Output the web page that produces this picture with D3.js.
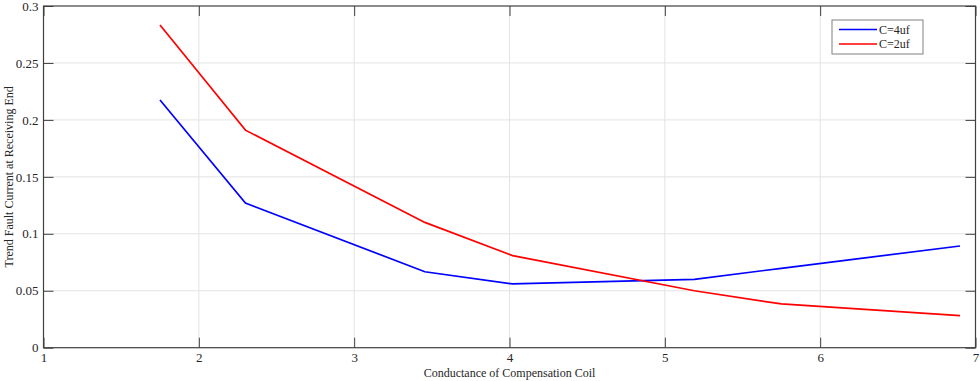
<!DOCTYPE html>
<html>
<head>
<meta charset="utf-8">
<script src="https://cdn.jsdelivr.net/npm/d3@7"></script>
<style>
  body { margin: 0; background: #fff; }
  svg { display: block; }
</style>
</head>
<body>
<div id="chart"></div>
<script>
// conductance values (x) and trend fault current per capacitance
const xValues = [1.75, 2.3, 3.455, 4.02, 5.19, 5.75, 6.9];
const c4uf = [0.2175, 0.127, 0.0667, 0.056, 0.060, 0.0697, 0.0893];
const c2uf = [0.2833, 0.191, 0.110, 0.0808, 0.050, 0.0384, 0.0281];
const seriesNames = ["C=4uf", "C=2uf"];
const seriesColors = ["#0000ff", "#ff0000"];
const xTicks = [1, 2, 3, 4, 5, 6, 7];
const yTicks = [0, 0.05, 0.1, 0.15, 0.2, 0.25, 0.3];

const W = 980, H = 381;
const margin = {top: 6, right: 4.5, bottom: 33.3, left: 43.5};
const width = W - margin.left - margin.right,
      height = H - margin.top - margin.bottom;
const font = "'Liberation Serif', 'Times New Roman', serif";

const svg = d3.select("#chart").append("svg")
    .attr("width", W)
    .attr("height", H);

const g = svg.append("g")
    .attr("transform", "translate(" + margin.left + "," + margin.top + ")");

const x = d3.scaleLinear().domain([1, 7]).range([0, width]);
const y = d3.scaleLinear().domain([0, 0.3]).range([height, 0]);

// grid
g.append("g").selectAll("line")
    .data(xTicks.slice(1, -1)).enter().append("line")
    .attr("x1", d => x(d)).attr("x2", d => x(d))
    .attr("y1", 0).attr("y2", height)
    .attr("stroke", "#e3e3e3").attr("stroke-width", 1);
g.append("g").selectAll("line")
    .data(yTicks.slice(1, -1)).enter().append("line")
    .attr("y1", d => y(d)).attr("y2", d => y(d))
    .attr("x1", 0).attr("x2", width)
    .attr("stroke", "#e3e3e3").attr("stroke-width", 1);

// axes (ticks inside, mirrored on top/right)
function styleAxis(sel) {
    sel.select(".domain").remove();
    sel.selectAll("line").attr("stroke", "#404040");
    sel.selectAll("text")
        .attr("fill", "#262626")
        .style("font-family", font)
        .style("font-size", "13px");
}

const axisX = g.append("g")
    .attr("transform", "translate(0," + height + ")")
    .call(d3.axisBottom(x).tickValues(xTicks).tickFormat(d3.format("d"))
        .tickSizeInner(-10).tickSizeOuter(0).tickPadding(5));
styleAxis(axisX);

const axisY = g.append("g")
    .call(d3.axisLeft(y).tickValues(yTicks).tickFormat(d => d === 0 ? "0" : String(d))
        .tickSizeInner(-10).tickSizeOuter(0).tickPadding(5));
styleAxis(axisY);

const axisTop = g.append("g")
    .call(d3.axisTop(x).tickValues(xTicks).tickFormat("")
        .tickSizeInner(-10).tickSizeOuter(0));
styleAxis(axisTop);

const axisRight = g.append("g")
    .attr("transform", "translate(" + width + ",0)")
    .call(d3.axisRight(y).tickValues(yTicks).tickFormat("")
        .tickSizeInner(-10).tickSizeOuter(0));
styleAxis(axisRight);

// box
g.append("rect")
    .attr("x", 0).attr("y", 0)
    .attr("width", width).attr("height", height)
    .attr("fill", "none")
    .attr("stroke", "#404040")
    .attr("stroke-width", 1.2);

// lines
const line = d3.line()
    .x((d, i) => x(xValues[i]))
    .y(d => y(d));

[c4uf, c2uf].forEach((s, i) => {
    g.append("path")
        .datum(s)
        .attr("fill", "none")
        .attr("stroke", seriesColors[i])
        .attr("stroke-width", 1.7)
        .attr("d", line);
});

// axis labels
svg.append("text")
    .attr("x", margin.left + width / 2)
    .attr("y", 377)
    .attr("text-anchor", "middle")
    .style("font-family", font)
    .style("font-size", "12px")
    .attr("fill", "#262626")
    .text("Conductance of Compensation Coil");

svg.append("text")
    .attr("transform", "translate(13," + (margin.top + height / 2) + ") rotate(-90)")
    .attr("text-anchor", "middle")
    .style("font-family", font)
    .style("font-size", "12px")
    .attr("fill", "#262626")
    .text("Trend Fault Current at Receiving End");

// legend
const legend = svg.append("g").attr("transform", "translate(832,20)");
legend.append("rect")
    .attr("width", 91).attr("height", 34)
    .attr("fill", "#fff")
    .attr("stroke", "#808080")
    .attr("stroke-width", 1);
seriesNames.forEach((name, i) => {
    const yy = 9.5 + i * 14.5;
    legend.append("line")
        .attr("x1", 7).attr("x2", 45)
        .attr("y1", yy).attr("y2", yy)
        .attr("stroke", seriesColors[i])
        .attr("stroke-width", 1.7);
    legend.append("text")
        .attr("x", 47).attr("y", yy + 4)
        .style("font-family", font)
        .style("font-size", "12px")
        .attr("fill", "#262626")
        .text(name);
});
</script>
</body>
</html>
